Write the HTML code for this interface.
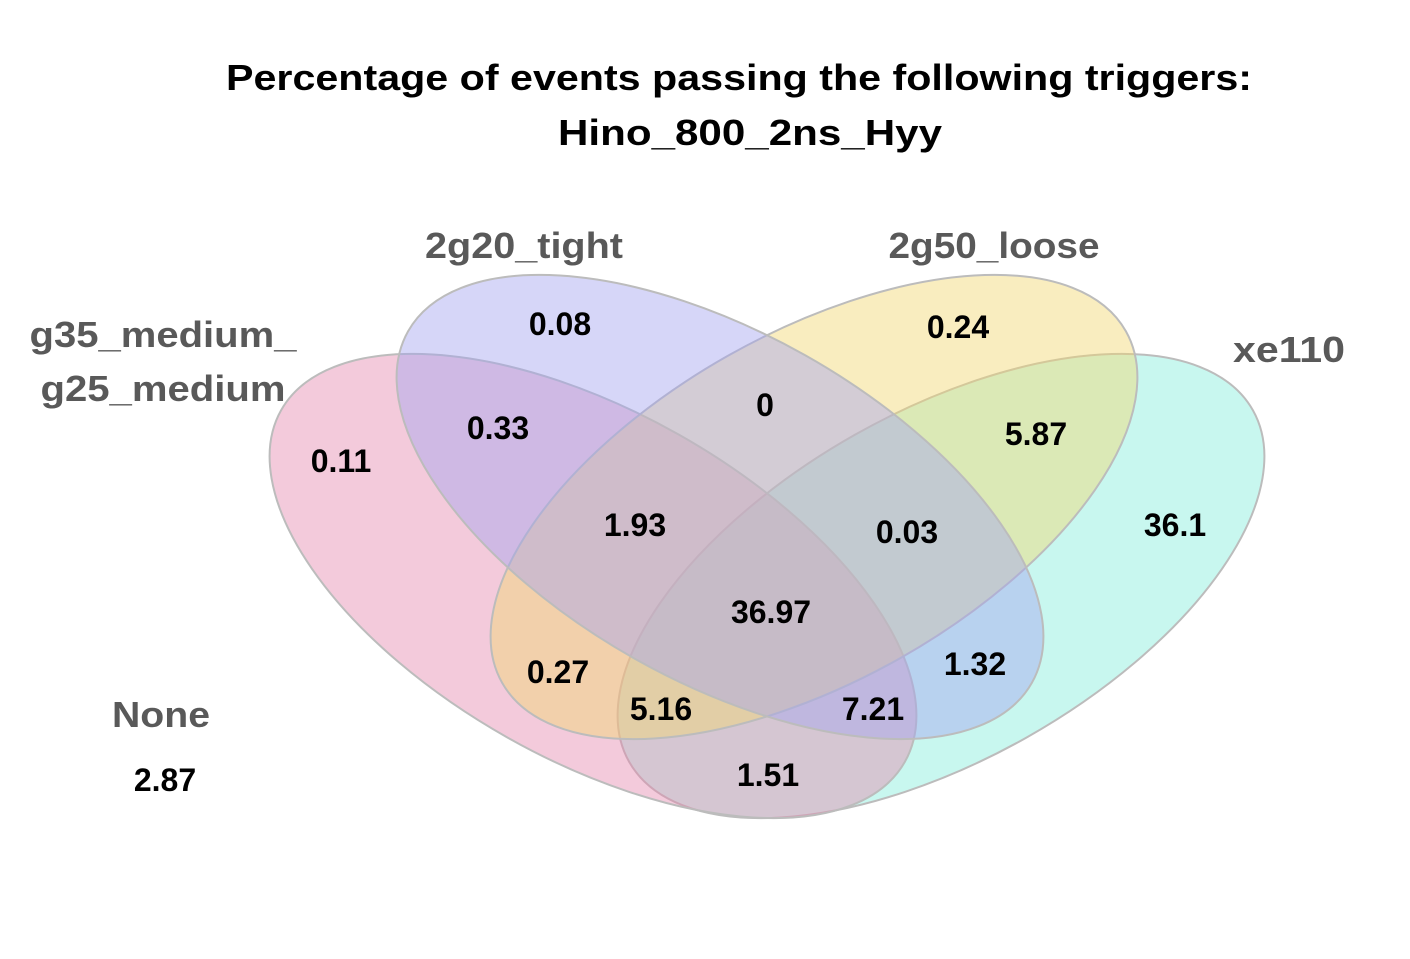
<!DOCTYPE html>
<html><head><meta charset="utf-8"><style>
html,body{margin:0;padding:0;background:#fff;}
svg text{font-family:"Liberation Sans",sans-serif;font-weight:bold;}
</style></head><body>
<svg id="chart" width="1410" height="954" viewBox="0 0 1410 954">
<text x="739" y="90" text-anchor="middle" font-size="36" fill="#000" textLength="1026" lengthAdjust="spacingAndGlyphs">Percentage of events passing the following triggers:</text>
<text x="750" y="145" text-anchor="middle" font-size="36" fill="#000" textLength="384" lengthAdjust="spacingAndGlyphs">Hino_800_2ns_Hyy</text>
<g id="sets"></g>
<g id="labels"></g>
<g id="values"></g>
</svg>
<script>
const setNames = ["g35_medium_g25_medium","2g20_tight","2g50_loose","xe110"];
const regionNames = ["g35","2g20","2g50","xe110","g35&2g20","2g20&2g50","2g50&xe110","g35&2g20&2g50","2g20&2g50&xe110","all","g35&2g50","g35&2g50&xe110","g35&2g20&xe110","2g20&xe110","g35&xe110","none"];
const regionValues = ["0.11","0.08","0.24","36.1","0.33","0","5.87","1.93","0.03","36.97","0.27","5.16","7.21","1.32","1.51","2.87"];
const NS="http://www.w3.org/2000/svg";
const ellipses=[
 {cx:941,cy:586,rx:358,ry:174,rot:-29.4,fill:"#86eedc",name:"set-ellipse-xe110"},
 {cx:593,cy:586,rx:358,ry:174,rot:29.4,fill:"#e58ab0",name:"set-ellipse-g35"},
 {cx:814,cy:507,rx:358,ry:174,rot:-29.4,fill:"#f2d770",name:"set-ellipse-2g50"},
 {cx:720,cy:507,rx:358,ry:174,rot:29.4,fill:"#a4a4f0",name:"set-ellipse-2g20"}
];
const sg=document.getElementById('sets');
ellipses.forEach((e,i)=>{
 const el=document.createElementNS(NS,'ellipse');
 el.setAttribute('cx',e.cx);el.setAttribute('cy',e.cy);el.setAttribute('rx',e.rx);el.setAttribute('ry',e.ry);
 el.setAttribute('transform',`rotate(${e.rot} ${e.cx} ${e.cy})`);
 el.setAttribute('fill',e.fill);el.setAttribute('fill-opacity','0.45');
 el.setAttribute('stroke','#bcbcbc');el.setAttribute('stroke-width','2');
 
 
 sg.appendChild(el);
});
const lg=document.getElementById('labels');
function addText(g,x,y,txt,size,fill,name,len){
 const t=document.createElementNS(NS,'text');
 t.setAttribute('x',x);t.setAttribute('y',y);t.setAttribute('text-anchor','middle');
 t.setAttribute('font-size',size);t.setAttribute('fill',fill);t.textContent=txt;
 if(len){t.setAttribute('textLength',len);t.setAttribute('lengthAdjust','spacingAndGlyphs');}
 
 
 g.appendChild(t);return t;
}
addText(lg,163,347,"g35_medium_",36,"#595959","set-label-g35-line1",267);
addText(lg,163,401,"g25_medium",36,"#595959","set-label-g35-line2",245);
addText(lg,524,258,setNames[1],36,"#595959","set-label-2g20",198);
addText(lg,994,258,setNames[2],36,"#595959","set-label-2g50",211);
addText(lg,1289,362,setNames[3],36,"#595959","set-label-xe110",112);
addText(lg,161,727,"None",36,"#595959","set-label-none",98);
const valPos=[[341,472],[560,335],[958,338],[1175,536],[498,439],[765,416],[1036,445],[635,536],[907,543],[771,623],[558,683],[661,720],[873,720],[975,675],[768,786],[165,791]];
const vg=document.getElementById('values');
regionValues.forEach((v,i)=>{
 const t=document.createElementNS(NS,'text');
 t.setAttribute('x',valPos[i][0]);t.setAttribute('y',valPos[i][1]);
 t.setAttribute('text-anchor','middle');t.setAttribute('font-size','32');t.setAttribute('fill','#000');
 t.textContent=v;
 
 
 vg.appendChild(t);
});
</script>
</body></html>
